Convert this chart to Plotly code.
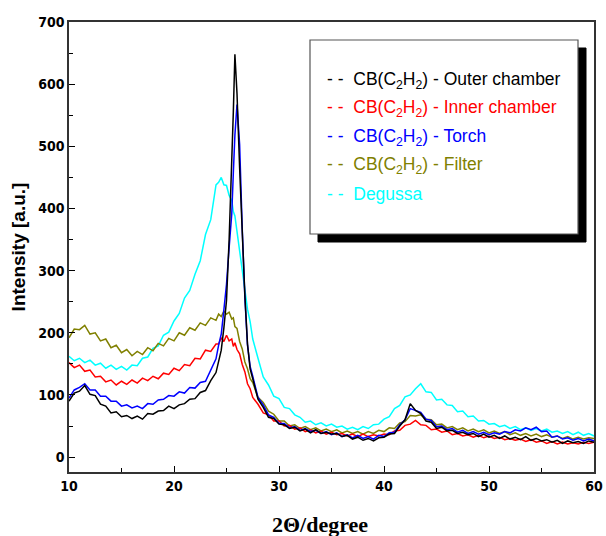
import plotly.graph_objects as go

# 2-theta sampling grid (degrees)
two_theta = [10, 10.5, 11, 11.5, 12, 12.5, 13, 13.5, 14, 14.5, 15, 15.5, 16, 16.5, 17, 17.5,
             18, 18.5, 19, 19.5, 20, 20.5, 21, 21.5, 22, 22.5, 23, 23.5, 24,
             24.25, 24.5, 24.75, 25, 25.25, 25.5, 25.65, 25.8, 26, 26.25, 26.5, 26.75, 27, 27.25, 27.5,
             28, 28.5, 29, 29.5, 30, 30.5, 31, 31.5, 32, 32.5, 33, 33.5, 34, 34.5, 35, 35.5,
             36, 36.5, 37, 37.5, 38, 38.5, 39, 39.5, 40, 40.5, 41, 41.5, 42, 42.5, 43, 43.5,
             44, 44.5, 45, 45.5, 46, 46.5, 47, 47.5, 48, 48.5, 49, 49.5, 50, 50.5, 51, 51.5,
             52, 52.5, 53, 53.5, 54, 54.5, 55, 55.5, 56, 56.5, 57, 57.5, 58, 58.5, 59, 59.5, 60]

outer_chamber = [90, 103, 106, 115, 101, 99, 85, 82, 71, 73, 65, 67, 62, 66, 61, 70,
                 69, 74, 75, 82, 78, 84, 86, 93, 94, 104, 107, 123, 136,
                 155, 172, 208, 252, 350, 460, 555, 648, 585, 465, 355, 260, 182, 142, 126,
                 93, 80, 64, 62, 53, 52, 46, 48, 42, 45, 39, 44, 38, 40, 37, 38,
                 33, 35, 29, 32, 27, 30, 26, 31, 32, 37, 38, 50, 60, 86, 75, 70,
                 58, 56, 46, 48, 42, 43, 38, 40, 36, 38, 33, 37, 32, 35, 30, 34,
                 29, 32, 28, 33, 27, 30, 26, 28, 24, 27, 22, 26, 23, 25, 22, 26, 24]

inner_chamber = [152, 144, 148, 138, 140, 129, 130, 121, 124, 116, 122, 117, 124, 119, 127, 123,
                 130, 126, 135, 133, 143, 139, 149, 147, 159, 158, 172, 170, 182,
                 182, 192, 186, 196, 187, 190, 178, 184, 173, 166, 149, 137, 118, 110, 96,
                 85, 71, 68, 58, 58, 50, 51, 45, 47, 41, 44, 39, 42, 37, 40, 36,
                 38, 34, 37, 33, 37, 33, 36, 34, 37, 36, 42, 43, 51, 53, 59, 52,
                 51, 44, 45, 40, 42, 36, 38, 34, 36, 32, 35, 31, 34, 30, 32, 28,
                 30, 27, 29, 25, 28, 24, 26, 22, 25, 21, 24, 21, 23, 21, 24, 22, 24]

torch = [95, 108, 112, 118, 108, 108, 98, 98, 90, 90, 82, 84, 79, 82, 78, 86,
         85, 92, 93, 99, 98, 105, 103, 112, 111, 120, 122, 140, 158,
         180, 198, 237, 278, 337, 391, 457, 518, 567, 503, 367, 256, 180, 146, 130,
         96, 84, 68, 64, 54, 54, 47, 49, 43, 46, 41, 43, 38, 41, 36, 39,
         33, 36, 31, 35, 30, 33, 29, 35, 33, 39, 40, 52, 60, 78, 75, 72,
         61, 59, 49, 50, 44, 46, 40, 43, 38, 41, 37, 40, 36, 39, 37, 41,
         39, 44, 42, 47, 44, 48, 41, 42, 32, 34, 29, 31, 27, 30, 26, 29, 26]

filter_ = [192, 206, 205, 212, 198, 200, 187, 190, 176, 180, 168, 173, 163, 170, 165, 176,
           171, 183, 179, 191, 187, 200, 196, 208, 204, 216, 212, 224, 220,
           230, 226, 235, 230, 233, 222, 224, 210, 207, 186, 174, 153, 142, 126, 120,
           96, 88, 74, 69, 58, 58, 50, 52, 46, 49, 44, 47, 42, 45, 41, 44,
           39, 42, 38, 41, 37, 41, 38, 43, 41, 47, 46, 55, 57, 67, 66, 68,
           61, 60, 52, 53, 47, 49, 44, 47, 42, 45, 41, 44, 39, 42, 38, 41,
           36, 39, 35, 38, 34, 37, 33, 36, 32, 34, 30, 33, 29, 32, 29, 31, 30]

degussa = [162, 155, 159, 152, 156, 148, 151, 143, 148, 141, 146, 140, 148, 147, 159, 161,
           175, 179, 196, 201, 219, 231, 256, 268, 294, 316, 358, 382, 438,
           442, 450, 438, 437, 421, 413, 395, 388, 362, 337, 298, 273, 238, 218, 190,
           159, 129, 116, 98, 94, 80, 78, 68, 64, 56, 58, 52, 55, 50, 53, 48,
           50, 45, 48, 44, 49, 46, 52, 53, 61, 65, 78, 83, 97, 100, 110, 118,
           105, 104, 92, 93, 84, 83, 73, 74, 65, 66, 58, 59, 53, 54, 49, 51,
           46, 49, 44, 47, 43, 46, 42, 45, 40, 42, 38, 41, 36, 40, 35, 38, 34]

series_names = ["CB(C<sub>2</sub>H<sub>2</sub>) - Outer chamber",
                "CB(C<sub>2</sub>H<sub>2</sub>) - Inner chamber",
                "CB(C<sub>2</sub>H<sub>2</sub>) - Torch",
                "CB(C<sub>2</sub>H<sub>2</sub>) - Filter",
                "Degussa"]
series_values = [outer_chamber, inner_chamber, torch, filter_, degussa]
series_colors = ["#000000", "#ff0000", "#0000ff", "#808000", "#00ffff"]

x_ticks = [10, 20, 30, 40, 50, 60]
y_ticks = [0, 100, 200, 300, 400, 500, 600, 700]
x_title = "2Θ/degree"
y_title = "Intensity [a.u.]"

fig = go.Figure()
# draw order: cyan, olive, red, blue, black on top
for idx in [4, 3, 1, 2, 0]:
    fig.add_trace(go.Scatter(x=two_theta, y=series_values[idx], mode="lines",
                             name=series_names[idx],
                             line=dict(color=series_colors[idx], width=1.5),
                             showlegend=False))

tick_font = dict(family="DejaVu Sans Condensed, DejaVu Sans, Liberation Sans", size=14,
                 color="black", weight=700)

fig.update_layout(
    width=606, height=536,
    margin=dict(l=69, r=12, t=22, b=64, autoexpand=False),
    paper_bgcolor="white", plot_bgcolor="white",
    showlegend=False,
    xaxis=dict(range=[10, 60], tickvals=x_ticks,
               ticks="inside", ticklen=6, tickwidth=1.2, tickcolor="black",
               minor=dict(dtick=5, ticks="inside", ticklen=4, tickcolor="black"),
               showline=True, linecolor="#333333", linewidth=1.5, mirror=True,
               showgrid=False, zeroline=False, tickfont=tick_font, automargin=False),
    yaxis=dict(range=[-24, 700], tickvals=y_ticks,
               ticks="inside", ticklen=6, tickwidth=1.2, tickcolor="black",
               minor=dict(dtick=50, ticks="inside", ticklen=4, tickcolor="black"),
               showline=True, linecolor="#333333", linewidth=1.5, mirror=True,
               showgrid=False, zeroline=False, tickfont=tick_font, automargin=False,
               title=dict(text=y_title,
                          font=dict(family="Liberation Sans, Arial", size=19, color="black",
                                    weight=700),
                          standoff=8)),
)

# pixel -> paper coordinate helpers for the plot area
pl, pr, pt, pb = 69, 594, 22, 472
def px(xp):
    return (xp - pl) / (pr - pl)
def py(yp):
    return (pb - yp) / (pb - pt)

# x-axis title (placed slightly left of centre, as in the original)
fig.add_annotation(xref="paper", yref="paper", x=px(320), y=py(524),
                   xanchor="center", yanchor="middle", showarrow=False,
                   text=x_title,
                   font=dict(family="Liberation Serif, Times New Roman", size=22,
                             color="black", weight=700))

# legend box with drop shadow
fig.add_shape(type="rect", xref="paper", yref="paper",
              x0=px(318), x1=px(586), y0=py(242), y1=py(48),
              fillcolor="black", line=dict(color="black", width=1), layer="above")
fig.add_shape(type="rect", xref="paper", yref="paper",
              x0=px(310), x1=px(578), y0=py(234), y1=py(40),
              fillcolor="white", line=dict(color="#555555", width=1.2), layer="above")

row_y = [80, 108.5, 137, 165.5, 194]
for i in range(5):
    fig.add_annotation(xref="paper", yref="paper", x=px(325), y=py(row_y[i]),
                       xanchor="left", yanchor="middle", showarrow=False,
                       text="- -  " + series_names[i],
                       font=dict(family="Liberation Sans, Arial", size=17.5,
                                 color=series_colors[i]))

fig.write_html("out.html",
               config={"displayModeBar": False},
               post_script="document.body.style.margin='0';document.body.style.overflow='hidden';")
